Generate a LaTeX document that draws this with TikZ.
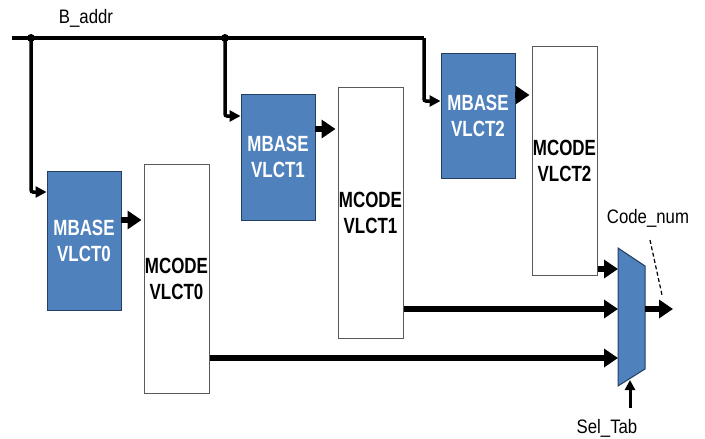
\documentclass[tikz,border=0pt]{standalone}
\usepackage{fontspec}
\setmainfont{Liberation Sans}
\newfontfamily\labelfont[FakeStretch=0.86]{Liberation Sans}
\newfontfamily\blockfont[FakeStretch=0.77]{Liberation Sans}
\usetikzlibrary{arrows.meta}
\definecolor{mblue}{HTML}{4F81BD}
\definecolor{mborder}{HTML}{243F60}
\begin{document}
\begin{tikzpicture}[x=1pt,y=-1pt,
  base/.style={draw=mborder, line width=1pt, fill=mblue, text=white,
    minimum width=74pt, inner sep=0pt, align=center,
    font=\blockfont\bfseries\fontsize{22}{26}\selectfont},
  code/.style={draw=black!65, line width=1pt, fill=white, text=black,
    minimum width=65pt, inner sep=0pt, align=center,
    font=\blockfont\bfseries\fontsize{22}{26}\selectfont},
  lbl/.style={font=\labelfont\fontsize{19.5}{22}\selectfont, inner sep=0pt},
  bus/.style={line width=3.5pt, rounded corners=2pt},
  feed/.style={bus, -{Triangle[length=11pt,width=11pt]}},
  stub/.style={line width=6pt, -{Triangle[length=14pt,width=18pt]}},
  wide/.style={line width=5.5pt, -{Triangle[length=14pt,width=18pt]}},
]
\useasboundingbox (0,0) rectangle (705,439);

% memory blocks
\node[base, minimum height=139pt] (base0) at (84,240.5) {MBASE\\VLCT0};
\node[code, minimum height=229pt] (code0) at (176.5,278.5) {MCODE\\VLCT0};
\node[base, minimum height=126pt] (base1) at (278,157) {MBASE\\VLCT1};
\node[code, minimum height=251pt] (code1) at (370.5,212.5) {MCODE\\VLCT1};
\node[base, minimum height=125pt] (base2) at (478,115.5) {MBASE\\VLCT2};
\node[code, minimum height=229pt] (code2) at (564.5,160.5) {MCODE\\VLCT2};

% address bus
\coordinate (busstart) at (12,38);
\coordinate (j0) at (31,38);
\coordinate (j1) at (225,38);
\coordinate (buscorner) at (424,38);
\coordinate (f0) at (31,192);
\coordinate (f1) at (225,116);
\coordinate (f2) at (424,101);
\draw[bus] (busstart) -- (buscorner);
\draw[feed] (buscorner) -- (f2) -- (f2 -| base2.west);
\draw[feed] (j0) -- (f0) -- (f0 -| base0.west);
\draw[feed] (j1) -- (f1) -- (f1 -| base1.west);
\fill (j0) circle (4pt);
\fill (j1) circle (4pt);
\node[lbl] (baddr) at (86,18) {B\_addr};

% base -> code
\coordinate (s0) at (121,220);
\coordinate (s1) at (315,129);
\coordinate (s2) at (515,95);
\draw[stub] (s0) -- ([xshift=-2pt]s0 -| code0.west);
\draw[stub] (s1) -- ([xshift=-2pt]s1 -| code1.west);
\draw[stub] (s2) -- ([xshift=-2pt]s2 -| code2.west);

% multiplexer
\draw[line width=1pt, draw=mborder, fill=mblue]
  (618,248) coordinate (mtl) -- (645,266) coordinate (mtr)
  -- (645,369) coordinate (mbr) -- (618,386) coordinate (mbl) -- cycle;
\coordinate (m2) at (618,269);
\coordinate (m1) at (618,309);
\coordinate (m0) at (618,358);
\coordinate (mout) at (645,309);
\coordinate (outend) at (673,309);
\coordinate (selin) at (630,380);
\coordinate (selstart) at (630,408);

\draw[wide] (m2 -| code2.east) -- (m2);
\draw[wide] (m1 -| code1.east) -- (m1);
\draw[wide] (m0 -| code0.east) -- (m0);
\draw[wide] (mout) -- (outend);
\draw[line width=3pt, -{Triangle[length=10pt,width=10pt]}] (selstart) -- (selin);

\node[lbl] (codenum) at (648,218) {Code\_num};
\coordinate (d0) at (650,240);
\coordinate (d1) at (662,295);
\draw[line width=1.2pt, dash pattern=on 4pt off 2.5pt] (d0) -- (d1);
\node[lbl] (seltab) at (607,428) {Sel\_Tab};
\end{tikzpicture}
\end{document}
